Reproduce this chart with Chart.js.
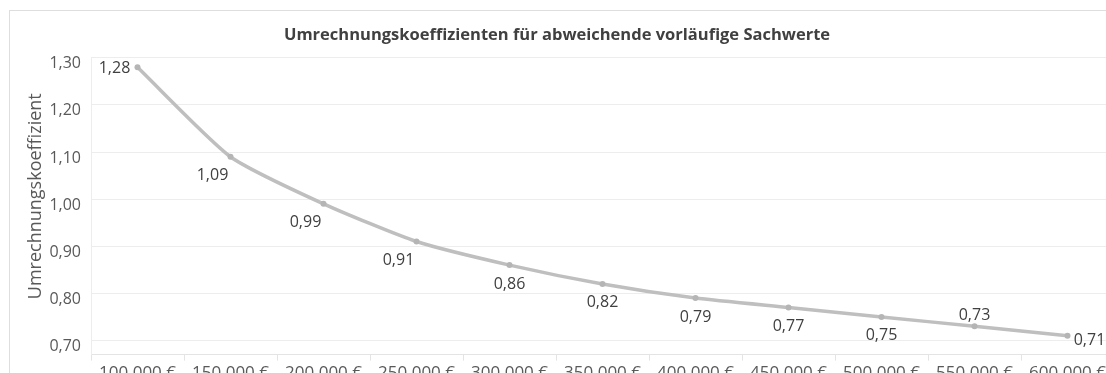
<!DOCTYPE html>
<html>
<head>
<meta charset="utf-8">
<script src="https://cdn.jsdelivr.net/npm/chart.js@4.4.1/dist/chart.umd.min.js"></script>
<style>
	html, body { margin: 0; padding: 0; background: #fff; overflow: hidden; }
	#wrap { position: relative; width: 1106px; height: 373px; overflow: hidden; }
	#frame { position: absolute; left: 9px; top: 10px; width: 1130px; height: 420px; border: 1px solid #dedede; box-sizing: border-box; pointer-events: none; }
	#koeffizient-chart { position: absolute; left: 0; top: 0; }
</style>
</head>
<body>
<div id="wrap">
	<canvas id="koeffizient-chart" width="1130" height="385"></canvas>
	<div id="frame"></div>
</div>
<script>
// Vorläufiger Sachwert (€) und zugehöriger Umrechnungskoeffizient
const sachwerte = ['100.000 €', '150.000 €', '200.000 €', '250.000 €', '300.000 €', '350.000 €',
	'400.000 €', '450.000 €', '500.000 €', '550.000 €', '600.000 €'];
const koeffizienten = [1.28, 1.09, 0.99, 0.91, 0.86, 0.82, 0.79, 0.77, 0.75, 0.73, 0.71];
const yTicks = [0.70, 0.80, 0.90, 1.00, 1.10, 1.20, 1.30];

const chartTitle = 'Umrechnungskoeffizienten für abweichende vorläufige Sachwerte';
const yTitle = 'Umrechnungskoeffizient';

// where each value label sits relative to its point
const labelPlacement = ['left', 'belowLeft', 'belowLeft', 'belowLeft', 'below', 'below',
	'below', 'below', 'below', 'above', 'right'];

const fontFamily = '"Open Sans", "Liberation Sans", sans-serif';
const formatDe = v => v.toFixed(2).replace('.', ',');

/* Draw value labels next to the points */
const valueLabels = {
	id: 'valueLabels',
	afterDatasetsDraw(chart) {
		const ctx = chart.ctx;
		const meta = chart.getDatasetMeta(0);
		ctx.save();
		ctx.font = '16px ' + fontFamily;
		ctx.fillStyle = '#404040';
		ctx.textBaseline = 'middle';
		ctx.textAlign = 'center';
		meta.data.forEach((pt, i) => {
			const text = formatDe(koeffizienten[i]);
			let x = pt.x, y = pt.y;
			switch (labelPlacement[i]) {
				case 'left': x -= 23; y += 1; break;
				case 'right': x += 22; y += 5; break;
				case 'above': y -= 11; break;
				case 'belowLeft': x -= 18; y += 19; break;
				case 'below':
				default: y += 19;
			}
			ctx.fillText(text, x, y);
		});
		ctx.restore();
	}
};

/* Axis title, drawn a little above the middle of the axis */
const yAxisTitle = {
	id: 'yAxisTitle',
	afterDraw(chart) {
		const ctx = chart.ctx;
		const area = chart.chartArea;
		ctx.save();
		ctx.translate(36, (area.top + area.bottom) / 2 - 10);
		ctx.rotate(-Math.PI / 2);
		ctx.font = '18px ' + fontFamily;
		ctx.fillStyle = '#595959';
		ctx.textAlign = 'center';
		ctx.textBaseline = 'middle';
		ctx.fillText(yTitle, 0, 0);
		ctx.restore();
	}
};

const ctx = document.getElementById('koeffizient-chart').getContext('2d');

new Chart(ctx, {
	type: 'line',
	data: {
		labels: sachwerte,
		datasets: [{
			data: koeffizienten,
			borderColor: '#bfbfbf',
			backgroundColor: '#b5b5b5',
			borderWidth: 3.5,
			pointRadius: 3,
			pointBorderWidth: 0,
			tension: 0.2,
			fill: false
		}]
	},
	options: {
		responsive: false,
		animation: false,
		devicePixelRatio: 1,
		layout: { padding: { left: 0, right: 16, top: 0, bottom: 0 } },
		plugins: {
			legend: { display: false },
			tooltip: { enabled: false },
			title: {
				display: true,
				text: chartTitle,
				color: '#404040',
				font: { family: fontFamily, size: 16.5, weight: 'bold' },
				padding: { top: 25, bottom: 13 }
			}
		},
		scales: {
			x: {
				offset: true,
				grid: {
					offset: true,
					drawOnChartArea: false,
					drawTicks: true,
					tickLength: 6,
					color: '#e4e4e4'
				},
				border: { color: '#e4e4e4' },
				ticks: {
					color: '#595959',
					font: { family: fontFamily, size: 17 },
					maxRotation: 0,
					autoSkip: false,
					padding: 2
				}
			},
			y: {
				min: 0.67,
				max: 1.30,
				afterBuildTicks: scale => {
					scale.ticks = yTicks.map(v => ({ value: v }));
				},
				afterFit: scale => { scale.width = 91; },
				grid: { color: '#ededed', drawTicks: false },
				border: { display: true, color: '#ededed' },
				ticks: {
					color: '#595959',
					font: { family: fontFamily, size: 16 },
					padding: 10,
					labelOffset: 6,
					callback: v => formatDe(v)
				}
			}
		}
	},
	plugins: [valueLabels, yAxisTitle]
});
</script>
</body>
</html>
